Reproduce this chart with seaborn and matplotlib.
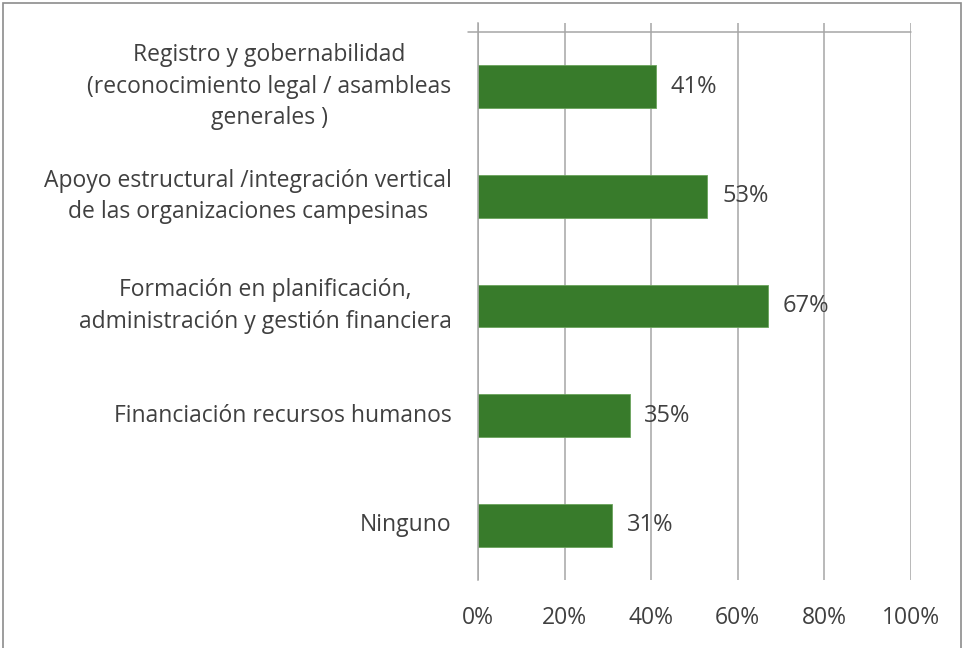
import matplotlib
matplotlib.use("Agg")
import matplotlib.pyplot as plt
import matplotlib.patches as mpatches
import matplotlib.transforms as mtrans
import seaborn as sns
import pandas as pd

categories = [
    "Registro y gobernabilidad\n(reconocimiento legal / asambleas\ngenerales )",
    "Apoyo estructural /integración vertical\nde las organizaciones campesinas",
    "Formación en planificación,\nadministración y gestión financiera",
    "Financiación recursos humanos",
    "Ninguno",
]
values = [41, 53, 67, 35, 31]
xticks = [0, 20, 40, 60, 80, 100]
xtick_labels = ["0%", "20%", "40%", "60%", "80%", "100%"]

df = pd.DataFrame({"cat": categories, "val": values})

sns.set_theme(style="white")
plt.rcParams['font.family'] = ['Open Sans', 'DejaVu Sans']

W, H = 963, 648
fig = plt.figure(figsize=(W / 100, H / 100), dpi=100)
left, right, bottom, top = 478, 911, 580, 23
ax = fig.add_axes([left / W, 1 - bottom / H, (right - left) / W, (bottom - top) / H])

text_col = "#404040"
grid_col = "#a6a6a6"
bar_col = "#387b2b"
fs = 16.5

sns.barplot(data=df, x="val", y="cat", orient="h", color=bar_col, width=0.39,
            saturation=1, ax=ax, edgecolor="#6aa35c", linewidth=0.6)

unit_px = (bottom - 32) / 5.0
extra = (32 - top) / unit_px
ax.set_ylim(4.5, -0.5 - extra)
ax.set_xlim(0, 100)

ax.set_xticks(xticks)
ax.set_xticklabels(xtick_labels, fontsize=fs, color=text_col)
ax.set_yticks(range(len(categories)))
ax.set_yticklabels(categories, fontsize=fs, color=text_col, multialignment="center",
                   linespacing=1.42)
for lab in ax.get_yticklabels():
    lab.set_verticalalignment("center")
ax.tick_params(axis="x", length=0, pad=19)
ax.tick_params(axis="y", length=0, pad=19)
ax.set_yticks([i - 0.5 for i in range(len(categories) + 1)], minor=True)
ax.tick_params(axis="y", which="minor", length=7.2, width=1, color=grid_col, direction="out")
ax.set_xlabel("")
ax.set_ylabel("")

ax.xaxis.grid(True, color=grid_col, linewidth=1.1)
ax.set_axisbelow(True)
for s in ["top", "right", "bottom"]:
    ax.spines[s].set_visible(False)
ax.spines["left"].set_color(grid_col)
ax.spines["left"].set_linewidth(1.1)

# top boundary line
trans = mtrans.blended_transform_factory(ax.transAxes, ax.transData)
ax.plot([-10 / (right - left), 1], [-0.5, -0.5], transform=trans, color=grid_col,
        linewidth=1.1, clip_on=False)

for i, v in enumerate(values):
    ax.text(v + 3.4, i, f"{v}%", va="center", ha="left", fontsize=17, color=text_col)

# figure border
fig.patches.append(mpatches.Rectangle((3 / W, -0.01), (961 - 3) / W, 1 - 3 / H + 0.01,
                                      transform=fig.transFigure, fill=False,
                                      edgecolor="#8c8c8c", linewidth=1.2))

fig.savefig("out.png", dpi=100, facecolor="white")
